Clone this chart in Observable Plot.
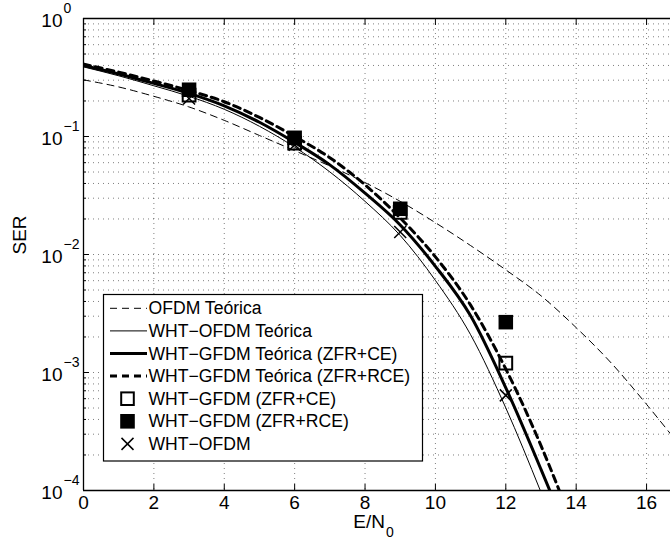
<!DOCTYPE html>
<html><head><meta charset="utf-8">
<script src="https://cdn.jsdelivr.net/npm/d3@7"></script>
<script src="https://cdn.jsdelivr.net/npm/@observablehq/plot@0.6"></script>
<style>
body{margin:0;background:#fff;}
#chart{position:relative;width:670px;height:551px;}
</style>
</head><body><div id="chart"></div>
<script>
// ---- data ----
const xTicks = [0, 2, 4, 6, 8, 10, 12, 14, 16];
const yExponents = [0, -1, -2, -3, -4];
const xLabel = "E/N";
const xLabelSub = "0";
const yLabel = "SER";

const ofdmX   = [0,1,2,3,4,5,6,7,8,9,10,11,12,13,14,15,16,17];
const ofdmSER = [0.302,0.263,0.219,0.178,0.137,0.102,0.0759,0.0562,0.0407,0.0282,0.0186,0.0119,0.00741,0.00447,0.00240,0.00120,0.000537,0.000229];

const whtOfdmX   = [0,1,2,3,4,5,6,7,8,9,10,11,12,12.98];
const whtOfdmSER = [0.389,0.327,0.269,0.219,0.170,0.122,0.0813,0.0501,0.0282,0.0145,0.00603,0.00209,0.000501,0.0001];

const gfdmCEX   = [0,1,2,3,4,5,6,7,8,9,10,11,12,13,13.25];
const gfdmCESER = [0.400,0.339,0.282,0.232,0.182,0.132,0.0891,0.0575,0.0331,0.0178,0.00794,0.00302,0.000741,0.000151,0.0001];

const gfdmRCEX   = [0,1,2,3,4,5,6,7,8,9,10,11,12,13,13.52];
const gfdmRCESER = [0.410,0.351,0.295,0.245,0.197,0.145,0.100,0.0661,0.0389,0.0204,0.00955,0.00372,0.00107,0.000240,0.0001];

const simX = [3, 6, 9, 12];
const simCE  = [0.224, 0.088, 0.0227, 0.0012];
const simRCE = [0.249, 0.0975, 0.0244, 0.00267];
const simOFDM = [0.21, 0.085, 0.0155, 0.00064];

const legendLabels = [
  "OFDM Teórica",
  "WHT\u2212OFDM Teórica",
  "WHT\u2212GFDM Teórica (ZFR+CE)",
  "WHT\u2212GFDM Teórica (ZFR+RCE)",
  "WHT\u2212GFDM (ZFR+CE)",
  "WHT\u2212GFDM (ZFR+RCE)",
  "WHT\u2212OFDM"
];

// ---- build ----
const pts = (xs, ys) => xs.map((x, i) => ({x, y: ys[i]}));
const yMajor = yExponents.map(e => 10 ** e);
const yMinor = [];
for (let e = -4; e < 0; e++) for (let m = 2; m <= 9; m++) yMinor.push(m * 10 ** e);
const yGrid = yMajor.concat(yMinor);

const FONT = "'Liberation Sans', Arial, Helvetica, sans-serif";
const gridStyle = {stroke: "#000", strokeOpacity: 0.5, strokeDasharray: "1,4", strokeWidth: 1};

const plot = Plot.plot({
  width: 670,
  height: 551,
  marginLeft: 83,
  marginRight: 0,
  marginTop: 18,
  marginBottom: 61,
  style: {fontFamily: FONT, background: "#fff", color: "#000", overflow: "visible"},
  x: {domain: [0, 16.68]},
  y: {type: "log", domain: [1e-4, 1]},
  marks: [
    Plot.gridY(yGrid, gridStyle),
    Plot.gridX(xTicks, gridStyle),
    Plot.line(pts(ofdmX, ofdmSER), {x: "x", y: "y", stroke: "#000", strokeWidth: 1, strokeDasharray: "7,5", curve: "monotone-x", clip: true}),
    Plot.line(pts(whtOfdmX, whtOfdmSER), {x: "x", y: "y", stroke: "#000", strokeWidth: 1, curve: "monotone-x", clip: true}),
    Plot.line(pts(gfdmCEX, gfdmCESER), {x: "x", y: "y", stroke: "#000", strokeWidth: 3, curve: "monotone-x", clip: true}),
    Plot.line(pts(gfdmRCEX, gfdmRCESER), {x: "x", y: "y", stroke: "#000", strokeWidth: 3, strokeDasharray: "7,5", curve: "monotone-x", clip: true}),
    Plot.dot(pts(simX, simCE), {x: "x", y: "y", symbol: "square", r: 7.2, fill: "none", stroke: "#000", strokeWidth: 2}),
    Plot.dot(pts(simX, simRCE), {x: "x", y: "y", symbol: "square", r: 8.2, fill: "#000", stroke: "none"}),
    Plot.dot(pts(simX, simOFDM), {x: "x", y: "y", symbol: "times", r: 5.5, stroke: "#000", strokeWidth: 1.5}),
    // frame
    Plot.ruleY([1e-4, 1], {stroke: "#000", strokeWidth: 1.3}),
    Plot.ruleX([0], {stroke: "#000", strokeWidth: 1.3}),
    // inward ticks
    Plot.axisX(xTicks, {anchor: "bottom", tickSize: -6, tickFormat: () => "", label: null}),
    Plot.axisX(xTicks, {anchor: "top", tickSize: -6, tickFormat: () => "", label: null}),
    Plot.axisY(yMajor, {anchor: "left", tickSize: -6, tickFormat: () => "", label: null}),
    Plot.axisY(yMinor, {anchor: "left", tickSize: -3, tickFormat: () => "", label: null}),
    // tick labels
    Plot.text(xTicks, {x: d => d, frameAnchor: "bottom", dy: 18, fontSize: 19, fill: "#000"}),
    Plot.text(yExponents, {y: e => 10 ** e, text: () => "10", frameAnchor: "left", textAnchor: "end", dx: -21, dy: 2, fontSize: 19, fill: "#000"}),
    Plot.text(yExponents, {y: e => 10 ** e, text: e => e === 0 ? "0" : "\u2212" + (-e), frameAnchor: "left", textAnchor: "start", dx: -20, dy: -10, fontSize: 14, fill: "#000"}),
    // axis labels
    Plot.text([xLabel], {frameAnchor: "bottom", textAnchor: "end", dx: 8, dy: 37, fontSize: 19, fill: "#000"}),
    Plot.text([xLabelSub], {frameAnchor: "bottom", textAnchor: "start", dx: 9, dy: 46, fontSize: 14, fill: "#000"}),
    Plot.text([yLabel], {frameAnchor: "left", rotate: -90, dx: -64, fontSize: 19, fill: "#000"})
  ]
});

document.getElementById("chart").appendChild(plot);

// ---- legend ----
const svg = d3.select(plot);
const lg = svg.append("g").attr("font-family", FONT).attr("font-size", 17.6).attr("text-anchor", "start");
const bx = 103.5, by = 294.5, bw = 319, bh = 166.5;
lg.append("rect").attr("x", bx).attr("y", by).attr("width", bw).attr("height", bh)
  .attr("fill", "#fff").attr("stroke", "#000").attr("stroke-width", 1.2);
const rowY = i => 308.3 + i * 22.6;
const lx1 = 110, lx2 = 147, mx = 127.5, tx = 148.5;
const styles = [
  {type: "line", w: 1, dash: "7,5"},
  {type: "line", w: 1, dash: null},
  {type: "line", w: 3, dash: null},
  {type: "line", w: 3, dash: "7,5"},
  {type: "open"},
  {type: "filled"},
  {type: "x"}
];
legendLabels.forEach((lab, i) => {
  const y = rowY(i), s = styles[i];
  if (s.type === "line") {
    const l = lg.append("line").attr("x1", lx1).attr("x2", lx2).attr("y1", y).attr("y2", y)
      .attr("stroke", "#000").attr("stroke-width", s.w);
    if (s.dash) l.attr("stroke-dasharray", s.dash);
  } else if (s.type === "open") {
    lg.append("rect").attr("x", mx - 6.3).attr("y", y - 6.3).attr("width", 12.6).attr("height", 12.6)
      .attr("fill", "none").attr("stroke", "#000").attr("stroke-width", 2);
  } else if (s.type === "filled") {
    lg.append("rect").attr("x", mx - 7.3).attr("y", y - 7.3).attr("width", 14.6).attr("height", 14.6).attr("fill", "#000");
  } else {
    lg.append("path").attr("d", `M${mx-6},${y-6}L${mx+6},${y+6}M${mx-6},${y+6}L${mx+6},${y-6}`)
      .attr("stroke", "#000").attr("stroke-width", 1.5);
  }
  lg.append("text").attr("x", tx).attr("y", y).attr("dy", "0.35em").attr("text-anchor", "start").attr("fill", "#000").text(lab);
});
</script>
</body></html>
